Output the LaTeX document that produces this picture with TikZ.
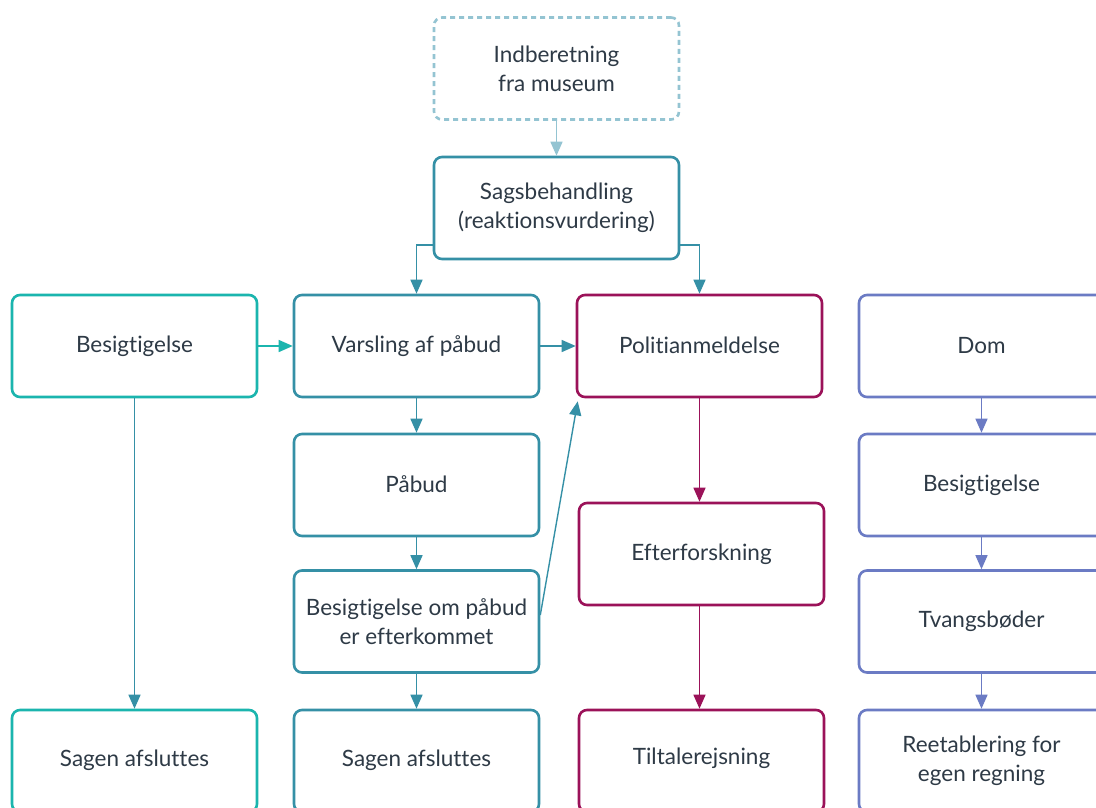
\documentclass[tikz,border=0pt]{standalone}
\usepackage{fontspec}
\setmainfont{Lato}[Ligatures={NoCommon}]
\usetikzlibrary{arrows.meta}
\definecolor{cteal}{HTML}{1BB5AE}
\definecolor{cblue}{HTML}{3590A6}
\definecolor{cmag}{HTML}{9B1259}
\definecolor{cpur}{HTML}{6B7BC4}
\definecolor{clight}{HTML}{94C4D2}
\definecolor{ctext}{HTML}{2E3A46}
\tikzset{
  box/.style={draw, rounded corners=8pt, line width=2.6pt, minimum width=245pt, minimum height=102pt,
    align=center, text=ctext, font=\fontsize{22.5}{29}\selectfont, inner sep=0pt},
  tealbox/.style={box, draw=cteal},
  bluebox/.style={box, draw=cblue},
  magbox/.style={box, draw=cmag},
  purbox/.style={box, draw=cpur},
  dashbox/.style={box, draw=clight, dash pattern=on 5pt off 4pt},
  conn/.style={line width=1.4pt, -{Triangle[width=12pt,length=14pt]}},
}
\begin{document}
\begin{tikzpicture}[x=1pt,y=-1pt]
\useasboundingbox (0,0) rectangle (1096,807);
\clip (0,0) rectangle (1096,807);
\fill[white] (0,0) rectangle (1096,807);
\node[dashbox] (ind) at (556.5,68.5) {Indberetning\\fra museum};
\node[bluebox] (sag) at (556.5,208) {Sagsbehandling\\(reaktionsvurdering)};
\node[tealbox] (b1) at (134.5,346) {\raisebox{2pt}{Besigtigelse}};
\node[bluebox] (var) at (416.5,346) {\raisebox{2pt}{Varsling af påbud}};
\node[magbox] (pol) at (699.5,346) {\raisebox{2pt}{Politianmeldelse}};
\node[purbox] (dom) at (981.5,346) {\raisebox{2pt}{Dom}};
\node[bluebox] (pab) at (416.5,485) {\raisebox{2pt}{Påbud}};
\node[purbox] (bes2) at (981.5,485) {Besigtigelse};
\node[bluebox] (bop) at (416.5,621.5) {Besigtigelse om påbud\\er efterkommet};
\node[magbox] (eft) at (701.5,554) {Efterforskning};
\node[purbox] (tvang) at (981.5,621.5) {Tvangsbøder};
\node[tealbox] (sa1) at (134.5,761) {\raisebox{5pt}{Sagen afsluttes}};
\node[bluebox] (sa2) at (416.5,761) {\raisebox{5pt}{Sagen afsluttes}};
\node[magbox] (tilt) at (701.5,761) {\raisebox{9pt}{Tiltalerejsning}};
\node[purbox] (reet) at (981.5,761) {Reetablering for\\egen regning};

\draw[conn, draw=clight] (ind.south) -- (sag.north);
\draw[conn, draw=cblue] (sag.west) ++(0,37) -| (var.north);
\draw[conn, draw=cblue] (sag.east) ++(0,37) -| (pol.north);
\draw[conn, draw=cteal] (b1.east) -- (var.west);
\draw[conn, draw=cblue] (var.east) -- (pol.west);
\draw[conn, draw=cblue] (b1.south) -- (sa1.north);
\draw[conn, draw=cblue] (var.south) -- (pab.north);
\draw[conn, draw=cblue] (pab.south) -- (bop.north);
\draw[conn, draw=cblue] (bop.south) -- (sa2.north);
\draw[conn, draw=cblue] (bop.east) ++(0,-6.5) -- ([shift={(2,3)}]pol.south west);
\draw[conn, draw=cmag] (pol.south) -- (pol.south |- eft.north);
\draw[conn, draw=cmag] (pol.south |- eft.south) -- (pol.south |- tilt.north);
\draw[conn, draw=cpur] (dom.south) -- (bes2.north);
\draw[conn, draw=cpur] (bes2.south) -- (tvang.north);
\draw[conn, draw=cpur] (tvang.south) -- (reet.north);
\end{tikzpicture}
\end{document}
